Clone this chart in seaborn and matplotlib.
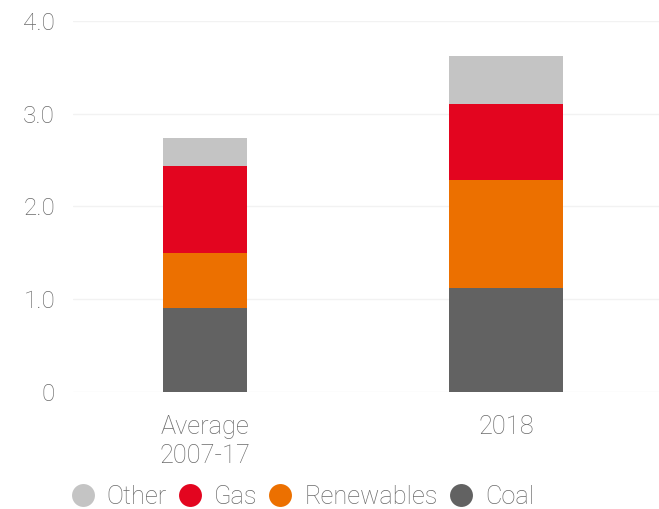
import matplotlib
matplotlib.use("Agg")
import matplotlib.pyplot as plt
from matplotlib.lines import Line2D
import seaborn as sns
import numpy as np

categories = ["Average\n2007-17", "2018"]
coal = [0.90, 1.12]
renewables = [0.60, 1.16]
gas = [0.93, 0.82]
other = [0.31, 0.52]
series_names = ["Coal", "Renewables", "Gas", "Other"]
series_colors = ["#626262", "#ec7000", "#e3051f", "#c4c4c4"]
bar_widths = [0.28, 0.38]
yticks = [0, 1.0, 2.0, 3.0, 4.0]
ytick_labels = ["0", "1.0", "2.0", "3.0", "4.0"]

sns.set_theme(style="white")
plt.rcParams['font.family'] = ['Roboto', 'DejaVu Sans']
plt.rcParams['font.weight'] = 'light'

FS = 17.5
FS_LEG = 18.3
TXT = "#6a6a6a"

fig = plt.figure(figsize=(6.59, 5.09), dpi=100)
ax = fig.add_axes([0.111, 0.2305, 0.889, 0.7285])

layers = [coal, renewables, gas, other]
cum = np.cumsum(np.array(layers), axis=0)
for li in range(len(layers) - 1, -1, -1):
    for ci, cat in enumerate(categories):
        sns.barplot(x=[cat], y=[cum[li][ci]], order=categories, color=series_colors[li],
                    width=bar_widths[ci], linewidth=0, saturation=1, ax=ax, zorder=3)

ax.set_xlim(-0.4385, 1.508)
ax.set_ylim(0, 4.0)
ax.set_yticks(yticks)
ax.set_yticklabels(ytick_labels)
ax.grid(axis="y", color="#f2f2f2", linewidth=1, zorder=0)
ax.grid(axis="x", visible=False)
for s in ax.spines.values():
    s.set_visible(False)
ax.tick_params(axis="y", length=0, pad=13, labelsize=FS, labelcolor=TXT)
ax.tick_params(axis="x", length=0, pad=17, labelsize=FS_LEG, labelcolor=TXT)
for t in ax.get_xticklabels():
    t.set_linespacing(1.25)
ax.set_xlabel("")
ax.set_ylabel("")

handles = [Line2D([0], [0], marker="o", linestyle="", markersize=16.5,
                  markerfacecolor=series_colors[i], markeredgewidth=0, label=series_names[i])
           for i in [3, 2, 1, 0]]
leg = fig.legend(handles=handles, loc="center left", bbox_to_anchor=(0.108, 0.0236),
                 ncol=4, frameon=False, fontsize=FS_LEG, handletextpad=0.5,
                 columnspacing=0.45, handlelength=0.9, borderaxespad=0, borderpad=0)
for t in leg.get_texts():
    t.set_color(TXT)

fig.savefig("out.png", dpi=100)
